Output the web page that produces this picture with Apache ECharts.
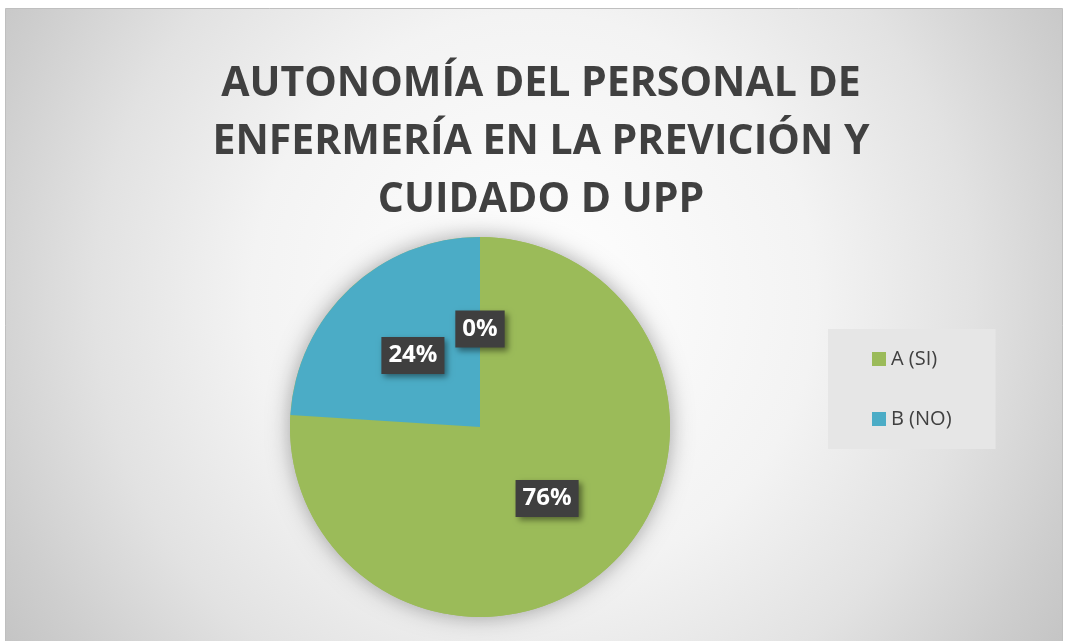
<!DOCTYPE html>
<html>
<head>
<meta charset="utf-8">
<script src="https://cdn.jsdelivr.net/npm/echarts@6/dist/echarts.min.js"></script>
<style>
  html, body { margin: 0; padding: 0; background: #ffffff; }
  #chart { width: 1068px; height: 641px; }
</style>
</head>
<body>
<div id="chart"></div>
<script>
// datos del gráfico
const categorias = ['A (SI)', 'B (NO)', 'C'];
const valores = [76, 24, 0];
const colores = ['#9BBB59', '#4BACC6', '#F79646'];
const leyenda = ['A (SI)', 'B (NO)'];
const titulo = 'AUTONOMÍA DEL PERSONAL DE\nENFERMERÍA EN LA PREVICIÓN Y\nCUIDADO D UPP';

const fuente = '"Open Sans", "Liberation Sans", sans-serif';

const chart = echarts.init(document.getElementById('chart'), null, { renderer: 'canvas' });

const option = {
  backgroundColor: '#ffffff',
  animation: false,
  graphic: [
    {
      type: 'rect',
      z: -10,
      silent: true,
      shape: { x: 5.5, y: 8.5, width: 1057, height: 640 },
      style: {
        fill: {
          type: 'radial', x: 0.5, y: 0.45, r: 0.98,
          colorStops: [
            { offset: 0, color: '#ffffff' },
            { offset: 0.45, color: '#f3f3f3' },
            { offset: 0.7, color: '#e2e2e2' },
            { offset: 0.9, color: '#cecece' },
            { offset: 1, color: '#c5c5c5' }
          ]
        },
        stroke: '#bfbfbf',
        lineWidth: 1
      }
    }
  ],
  title: {
    text: titulo,
    left: 536,
    top: 50,
    textAlign: 'center',
    textStyle: {
      fontFamily: fuente,
      fontWeight: 'bold',
      fontSize: 41,
      lineHeight: 58,
      color: '#404040'
    }
  },
  legend: {
    data: leyenda,
    orient: 'vertical',
    left: 828,
    top: 329,
    backgroundColor: '#e6e6e6',
    padding: [19, 44, 19, 44],
    itemGap: 38,
    itemWidth: 14,
    itemHeight: 14,
    icon: 'rect',
    selectedMode: false,
    textStyle: {
      fontFamily: fuente,
      fontSize: 20,
      color: '#404040',
      lineHeight: 22
    }
  },
  series: [
    {
      // sombra bajo el círculo
      type: 'pie',
      silent: true,
      radius: 190,
      center: [480, 427],
      z: 1,
      label: { show: false },
      labelLine: { show: false },
      itemStyle: {
        color: '#9BBB59',
        shadowBlur: 22,
        shadowColor: 'rgba(0,0,0,0.35)'
      },
      data: [{ value: 1, name: '' }]
    },
    {
      type: 'pie',
      radius: 190,
      center: [480, 427],
      startAngle: 90,
      clockwise: true,
      z: 2,
      data: categorias.map((c, i) => ({
        name: c,
        value: valores[i],
        itemStyle: { color: colores[i] }
      })),
      itemStyle: { borderWidth: 0 },
      label: {
        show: true,
        position: 'inside',
        formatter: '{d}%',
        fontFamily: fuente,
        fontWeight: 'bold',
        fontSize: 24,
        color: '#ffffff',
        backgroundColor: '#3f3f3f',
        padding: [7, 7, 6, 7],
        shadowBlur: 6,
        shadowOffsetX: 3,
        shadowOffsetY: 3,
        shadowColor: 'rgba(0,0,0,0.45)'
      },
      labelLine: { show: false },
      emphasis: { disabled: true }
    }
  ]
};

chart.setOption(option);
</script>
</body>
</html>
